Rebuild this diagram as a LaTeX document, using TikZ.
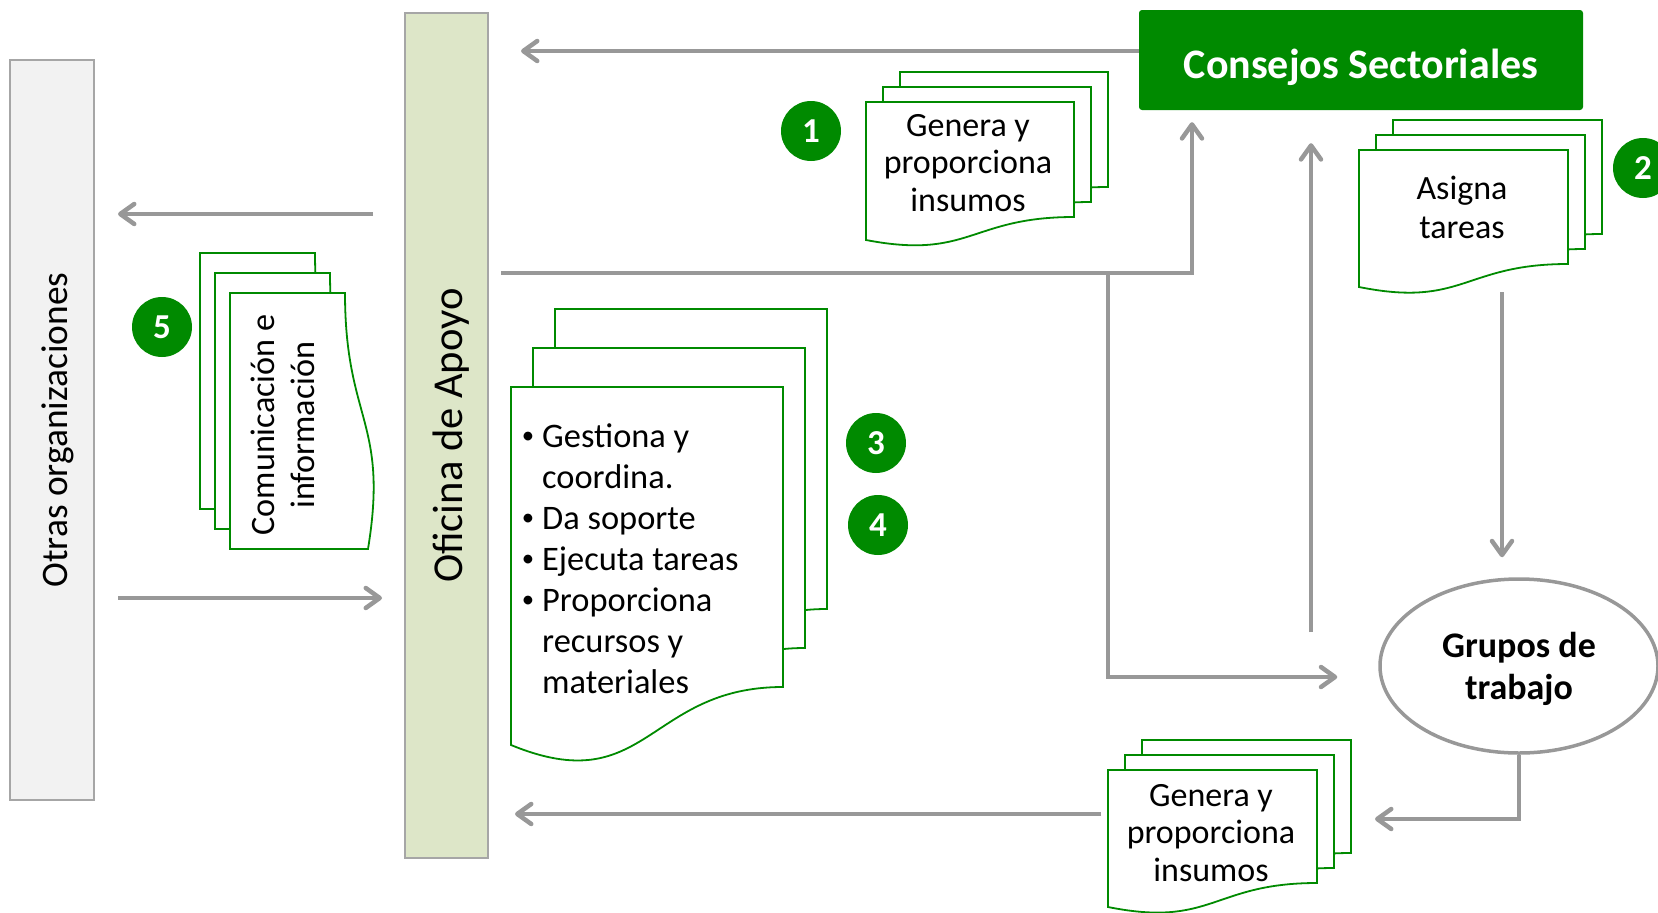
\documentclass[tikz,border=0pt]{standalone}
\usepackage{fontspec}
\usepackage{graphicx}
\setmainfont{Carlito}
\usetikzlibrary{positioning,calc,shapes.geometric,arrows.meta}
\definecolor{CSGreen}{RGB}{0,138,0}
\definecolor{FlowGray}{RGB}{152,152,152}
\definecolor{BoxGray}{RGB}{166,166,166}
\definecolor{OtrasFill}{RGB}{242,242,242}
\definecolor{OficinaFill}{RGB}{221,230,200}
\tikzset{
    sidebox/.style={draw=BoxGray, line width=2pt, inner sep=0pt},
    docpage/.style={draw=CSGreen, fill=white, line width=1.8pt},
    doctext/.style={align=center, inner sep=0pt, font=\fontsize{34}{37.5}\selectfont},
    numcircle/.style={circle, fill=CSGreen, text=white, minimum size=60pt, inner sep=0pt, font=\bfseries\fontsize{35}{35}\selectfont},
    flow/.style={draw=FlowGray, line width=3.2pt, -{Straight Barb[length=14pt,width=20pt,line width=4.5pt,round]}}
}
% stack of three pages: x, y, width, right height, left height, wave depth, dx, dy
\newcommand{\docstack}[8]{%
    \foreach \k in {2,1,0}{
        \draw[docpage] ({#1+\k*#7},{#2-\k*#8}) -- ++(#3,0) -- ++(0,#4)
            .. controls ++({-0.5*#3},0) and ({#1+\k*#7+0.5*#3},{#2-\k*#8+#6}) .. ({#1+\k*#7},{#2-\k*#8+#5}) -- cycle;
    }
}
\newcommand{\bulletmark}{\llap{\raisebox{4pt}{\scalebox{0.72}{\textbullet}}\hspace{8pt}}}

\begin{document}
\begin{tikzpicture}[x=1pt, y=-1pt]
    \useasboundingbox (0,0) rectangle (1658,913);

    % --- BOXES ---
    % Otras organizaciones
    \node[sidebox, fill=OtrasFill, minimum width=84pt, minimum height=740pt] (otras) at (52,430) {};
    \node[rotate=90, font=\fontsize{37.4}{42}\selectfont] (otrastext) at ([xshift=6pt]otras.center) {Otras organizaciones};
    % Oficina de Apoyo
    \node[sidebox, fill=OficinaFill, minimum width=83pt, minimum height=845pt] (oficina) at (446.5,435.5) {};
    \node[rotate=90, font=\fontsize{42.6}{46}\selectfont] (oficinatext) at ([xshift=5pt]oficina.center) {Oficina de Apoyo};
    % Consejos Sectoriales
    \node[fill=CSGreen, text=white, rounded corners=3pt, minimum width=444pt, minimum height=100pt,
          text height=36pt, text depth=0pt,
          font=\bfseries\fontsize{42}{46}\selectfont] (consejos) at (1361,60) {Consejos Sectoriales};
    % Grupos de trabajo
    \node[ellipse, draw=FlowGray, line width=3.5pt, fill=white, minimum width=278pt, minimum height=174pt,
          align=center, text depth=0pt, font=\bfseries\fontsize{36}{42}\selectfont] (grupos) at (1519,666) {Grupos de\\trabajo};

    % --- ARROWS ---
    \coordinate (topfeed) at ([yshift=9pt]consejos.west);
    \coordinate (split) at (1108,273);
    \coordinate (rise) at (1192,273);
    \coordinate (gup) at (1311,632);
    \coordinate (gdown) at (1502,292);
    \coordinate (ret) at (1375,819);
    \coordinate (back) at (1101,814);
    \coordinate (outrow) at (0,214);
    \coordinate (inrow) at (0,598);
    % Consejos -> Oficina
    \draw[flow, shorten >=32pt] (topfeed) -- (topfeed -| oficina.east);
    % Oficina -> Consejos
    \draw[flow, shorten <=12pt, shorten >=12pt] (oficina.east |- rise) -| (consejos.south -| rise);
    % Oficina -> Grupos
    \draw[flow, shorten >=41pt] (split) |- ([yshift=-11pt]grupos.west);
    % Grupos -> Consejos
    \draw[flow, shorten >=33pt] (gup) -- (gup |- consejos.south);
    % Consejos -> Grupos
    \draw[flow, shorten >=20pt] (gdown) -- (gdown |- grupos.north);
    % Grupos -> Oficina
    \draw[flow] (grupos.south) |- (ret);
    \draw[flow, shorten >=26pt] (back) -- (back -| oficina.east);
    % Oficina <-> Otras
    \draw[flow, shorten <=31pt, shorten >=23pt] (oficina.west |- outrow) -- (otras.east |- outrow);
    \draw[flow, shorten <=23pt, shorten >=22pt] (otras.east |- inrow) -- (oficina.west |- inrow);

    % --- DOCUMENTS ---
    % 1: genera y proporciona insumos
    \docstack{866}{102}{208}{115}{138}{158}{17}{15}
    \node[doctext, anchor=north] (insumosup) at (968,114) {Genera y\\proporciona\\insumos};
    % 2: asigna tareas
    \docstack{1359}{150}{209}{114}{137}{158}{17}{15}
    \node[doctext, anchor=north, font=\fontsize{34}{38.5}\selectfont] (tareas) at (1462,176) {Asigna\\tareas};
    % 3/4: tareas de la oficina
    \docstack{511}{387}{272}{300}{358}{414}{22}{39}
    \node[anchor=north west, inner sep=0pt, align=left, font=\fontsize{34.4}{41}\selectfont] (soporte) at (542,424)
        {\bulletmark Gestiona y\\coordina.\\\bulletmark Da soporte\\
         \bulletmark Ejecuta tareas\\\bulletmark Proporciona\\recursos y\\materiales};
    % bottom: genera y proporciona insumos
    \docstack{1108}{770}{209}{113}{137}{158}{17}{15}
    \node[doctext, anchor=north] (insumosdown) at (1211,784) {Genera y\\proporciona\\insumos};
    % 5: comunicacion (turned)
    \begin{scope}[shift={(230,549)}, rotate=90]
        \docstack{0}{0}{256}{115}{138}{159}{20}{15}
    \end{scope}
    \node[doctext, rotate=90, font=\fontsize{34.2}{40}\selectfont] (comunicacion) at (283,425) {Comunicación e\\información};

    % --- NUMBERS ---
    \node[numcircle] (n1) at (811,131) {1};
    \node[numcircle] (n2) at (1643,168) {2};
    \node[numcircle] (n3) at (876,443) {3};
    \node[numcircle] (n4) at (878,525) {4};
    \node[numcircle] (n5) at (162,327) {5};
\end{tikzpicture}
\end{document}
